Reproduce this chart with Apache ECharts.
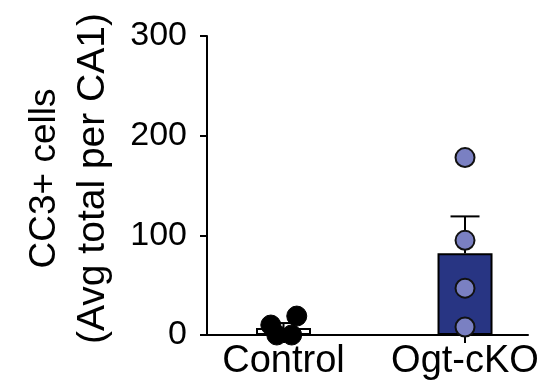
<!DOCTYPE html>
<html>
<head>
<meta charset="utf-8">
<script src="https://cdn.jsdelivr.net/npm/echarts@6/dist/echarts.min.js"></script>
<style>
  html, body { margin: 0; padding: 0; background: #fff; }
  #chart { width: 552px; height: 390px; }
</style>
</head>
<body>
<div id="chart"></div>
<script>
var categories = ["Control", "Ogt-cKO"];
var yTicks = [0, 100, 200, 300];
// bar height (mean) and error bar top (mean + SEM)
var barMeans = [7, 82];
var errTops = [12, 119];
// individual animals
var controlPoints = [10, 19, 0, 0];
var controlJitter = [-0.07, 0.073, -0.037, 0.045];
var cKOPoints = [178, 95, 47, 8];

var myChart = echarts.init(document.getElementById("chart"));

var fontFamily = "'Liberation Sans', Arial, sans-serif";

var option = {
  animation: false,
  grid: { left: 207, right: 24, top: 36, bottom: 55 },
  xAxis: {
    type: "value",
    min: -0.4215,
    max: 1.347,
    splitLine: { show: false },
    axisLine: { show: true, onZero: false, lineStyle: { color: "#000", width: 2 } },
    axisTick: {
      show: true,
      length: 8,
      customValues: [0, 1],
      lineStyle: { color: "#000", width: 2 }
    },
    axisLabel: {
      customValues: [0, 1],
      formatter: function (v) {
        return categories[Math.round(v)];
      },
      color: "#000",
      fontFamily: fontFamily,
      fontSize: 38,
      margin: 8
    }
  },
  yAxis: {
    type: "value",
    min: 0,
    max: 300,
    interval: 100,
    name: "{a|CC3+ cells}\n{b|(Avg total per CA1)}",
    nameLocation: "middle",
    nameRotate: 90,
    nameGap: 90,
    nameTextStyle: {
      color: "#000",
      fontFamily: fontFamily,
      padding: [0, 0, 0, 14],
      rich: {
        a: { fontFamily: fontFamily, fontSize: 37, lineHeight: 48, color: "#000" },
        b: { fontFamily: fontFamily, fontSize: 39, lineHeight: 48, color: "#000" }
      }
    },
    splitLine: { show: false },
    axisLine: { show: true, onZero: false, lineStyle: { color: "#000", width: 2 } },
    axisTick: { show: true, length: 7, lineStyle: { color: "#000", width: 2 } },
    axisLabel: {
      color: "#000",
      fontFamily: fontFamily,
      fontSize: 34,
      margin: 20,
      formatter: function (v) {
        return yTicks.indexOf(v) >= 0 ? String(v) : "";
      }
    }
  },
  series: [
    {
      type: "bar",
      barWidth: 55,
      z: 1,
      data: [
        { value: [0, barMeans[0]], itemStyle: { color: "#ffffff" } },
        { value: [1, barMeans[1]], itemStyle: { color: "#283583" } }
      ],
      itemStyle: { borderColor: "#000", borderWidth: 2 }
    },
    {
      type: "custom",
      z: 2,
      data: [
        [0, barMeans[0], errTops[0]],
        [1, barMeans[1], errTops[1]]
      ],
      renderItem: function (params, api) {
        var x = api.value(0);
        var low = api.coord([x, api.value(1)]);
        var high = api.coord([x, api.value(2)]);
        var halfCap = 14.5;
        var style = { stroke: "#000", lineWidth: 2 };
        return {
          type: "group",
          children: [
            {
              type: "line",
              shape: { x1: low[0], y1: low[1], x2: high[0], y2: high[1] },
              style: style
            },
            {
              type: "line",
              shape: { x1: high[0] - halfCap, y1: high[1], x2: high[0] + halfCap, y2: high[1] },
              style: style
            }
          ]
        };
      }
    },
    {
      type: "scatter",
      z: 3,
      symbolSize: 20,
      itemStyle: { color: "#000", borderColor: "#000", borderWidth: 1, opacity: 1 },
      data: controlPoints.map(function (v, i) {
        return [0 + controlJitter[i], v];
      })
    },
    {
      type: "scatter",
      z: 3,
      symbolSize: 19,
      itemStyle: { color: "#7a80c2", borderColor: "#111", borderWidth: 2, opacity: 1 },
      data: cKOPoints.map(function (v) {
        return [1, v];
      })
    }
  ]
};

myChart.setOption(option);
window.addEventListener("resize", function () {
  myChart.resize();
});
</script>
</body>
</html>
